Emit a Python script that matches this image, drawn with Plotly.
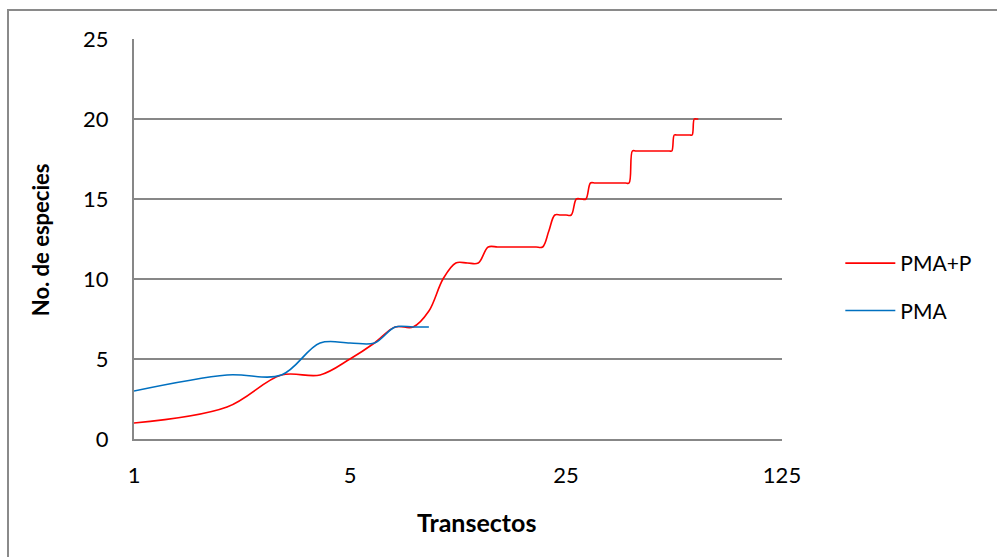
import plotly.graph_objects as go

# Species accumulation per transect
transectos_pma_p = list(range(1, 68))
especies_pma_p = (
    [1, 2, 4, 4, 5, 6, 7, 7, 8, 10, 11, 11, 11]
    + [12] * 8
    + [13]
    + [14] * 4
    + [15] * 3
    + [16] * 11
    + [18] * 15
    + [19] * 9
    + [20] * 3
)

transectos_pma = list(range(1, 10))
especies_pma = [3, 4, 4, 6, 6, 6, 7, 7, 7]

x_ticks = [1, 5, 25, 125]
y_ticks = [0, 5, 10, 15, 20, 25]

FONT = "Lato, 'Open Sans', sans-serif"
GRID = "#878787"

fig = go.Figure()
fig.add_trace(go.Scatter(
    x=transectos_pma_p, y=especies_pma_p, name="PMA+P", mode="lines",
    line=dict(color="#FF0000", width=1.6, shape="spline", smoothing=1),
    legendgroup="a",
))
fig.add_trace(go.Scatter(
    x=transectos_pma, y=especies_pma, name="PMA", mode="lines",
    line=dict(color="#0070C0", width=1.6, shape="spline", smoothing=1),
    legendgroup="b",
))

fig.update_layout(
    width=997, height=557,
    margin=dict(l=134, r=215, t=39, b=118),
    paper_bgcolor="white", plot_bgcolor="white",
    font=dict(family=FONT, size=22, color="#000000"),
    showlegend=True,
    legend=dict(
        x=1.09, y=0.38, xanchor="left", yanchor="middle",
        font=dict(family=FONT, size=21, color="#000000"),
        tracegroupgap=17, itemwidth=50, bgcolor="rgba(0,0,0,0)",
    ),
    xaxis=dict(
        type="log", range=[0, 2.0969100130080562],
        tickvals=x_ticks, ticktext=[str(v) for v in x_ticks],
        showgrid=False, zeroline=False,
        showline=True, linecolor=GRID, linewidth=2,
        ticks="", ticklabelstandoff=16,
        tickfont=dict(family=FONT, size=22, color="#000000"),
    ),
    yaxis=dict(
        range=[0, 25], tickvals=y_ticks,
        showgrid=True, gridcolor=GRID, gridwidth=2,
        zeroline=False, showline=True, linecolor=GRID, linewidth=2,
        ticks="", ticklabelstandoff=19,
        tickfont=dict(family=FONT, size=22, color="#000000"),
    ),
    annotations=[
        dict(text="<b>Transectos</b>", xref="paper", yref="paper",
             x=(476 - 134) / 648, y=-0.207, xanchor="center", yanchor="middle",
             showarrow=False, font=dict(family=FONT, size=25, color="#000000")),
        dict(text="<b>No. de especies</b>", xref="paper", yref="paper",
             x=(40 - 134) / 648, y=0.497, xanchor="center", yanchor="middle",
             textangle=-90, showarrow=False,
             font=dict(family=FONT, size=22, color="#000000")),
    ],
    shapes=[
        dict(type="rect", xref="paper", yref="paper",
             x0=(8 - 134) / 648, x1=1.6, y0=-0.5, y1=(439 - 10) / 400,
             line=dict(color="#8a8a8a", width=2), fillcolor="rgba(0,0,0,0)",
             layer="below"),
    ],
)

fig.write_html("out.html")
